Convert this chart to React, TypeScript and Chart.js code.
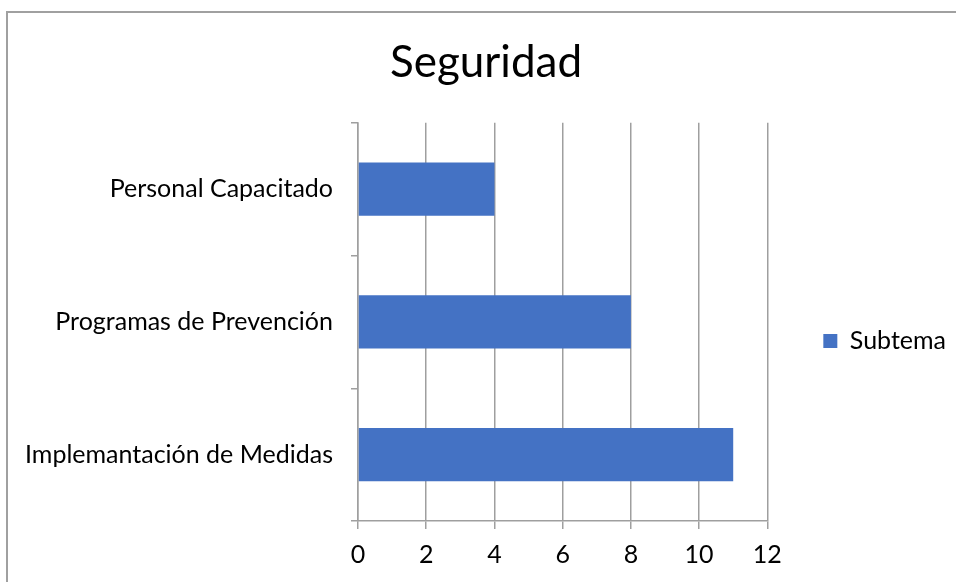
import React, { useEffect, useRef } from 'react';
import { Chart, registerables } from 'chart.js';

Chart.register(...registerables);

const chartTitle = 'Seguridad';
const seriesLabel = 'Subtema';
const categories = ['Personal Capacitado', 'Programas de Prevención', 'Implemantación de Medidas'];
const subtemaValues = [4, 8, 11];
const xMin = 0;
const xMax = 12;
const xStep = 2;

const GRID = '#9f9f9f';
const FONT = 'Lato, "Open Sans", sans-serif';

export default function App() {
  const ref = useRef<HTMLCanvasElement>(null);

  useEffect(() => {
    document.body.style.overflow = 'hidden';
    const chart = new Chart(ref.current as HTMLCanvasElement, {
      type: 'bar',
      data: {
        labels: categories,
        datasets: [
          {
            label: seriesLabel,
            data: subtemaValues,
            backgroundColor: '#4472C4',
            borderWidth: 0,
            barPercentage: 0.4,
            categoryPercentage: 1,
          },
        ],
      },
      options: {
        indexAxis: 'y',
        animation: false,
        responsive: false,
        maintainAspectRatio: false,
        devicePixelRatio: 1,
        layout: { padding: { left: 8, right: 12, top: 0, bottom: 34 } },
        plugins: {
          title: {
            display: true,
            text: chartTitle,
            color: '#000',
            font: { family: FONT, size: 44, weight: 'normal' },
            padding: { top: 23, bottom: 34 },
          },
          legend: {
            position: 'right',
            align: 'center',
            labels: {
              boxWidth: 14,
              boxHeight: 14,
              padding: 56,
              color: '#000',
              font: { family: FONT, size: 25 },
            },
          },
          tooltip: { enabled: false },
        },
        scales: {
          x: {
            type: 'linear',
            min: xMin,
            max: xMax,
            ticks: { stepSize: xStep, color: '#000', font: { family: FONT, size: 25 }, padding: 11 },
            grid: { color: GRID, lineWidth: 1.5, tickLength: 8, drawTicks: true },
            border: { color: GRID, width: 1.5 },
            afterFit: (s: any) => {
              s.height = 148;
            },
          },
          y: {
            type: 'category',
            ticks: { color: '#000', font: { family: FONT, size: 25 }, padding: 18 },
            grid: { offset: true, drawOnChartArea: false, drawTicks: true, tickLength: 7, color: GRID, lineWidth: 1.5 },
            border: { color: GRID, width: 1.5 },
            afterFit: (s: any) => {
              s.width = 342;
            },
          },
        },
      },
    });
    return () => chart.destroy();
  }, []);

  return (
    <div
      style={{
        position: 'fixed',
        left: 6,
        top: 11,
        width: 1000,
        height: 700,
        borderLeft: '2px solid #a0a0a0',
        borderTop: '2px solid #a0a0a0',
        background: '#fff',
      }}
    >
      <canvas ref={ref} width={960} height={690} style={{ display: 'block' }} />
    </div>
  );
}
